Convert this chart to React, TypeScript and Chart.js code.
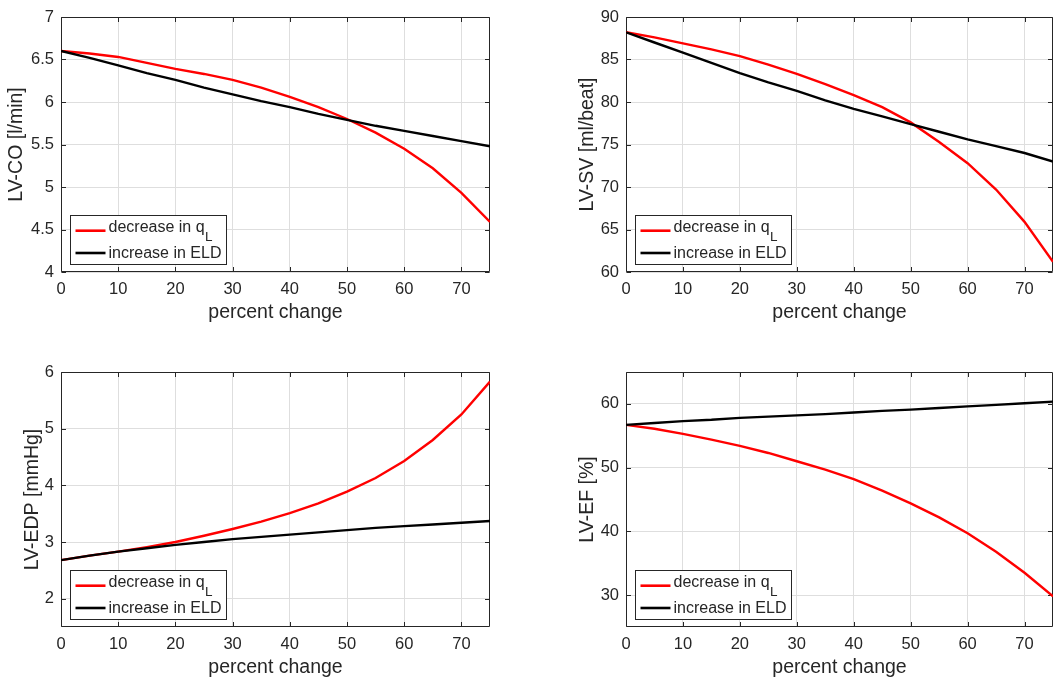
import React, { useEffect, useRef } from "react";
import { Chart, registerables } from "chart.js";

Chart.register(...registerables);

// ---------------- data ----------------
const percentChange = [0, 5, 10, 15, 20, 25, 30, 35, 40, 45, 50, 55, 60, 65, 70, 75];
const xTicks = [0, 10, 20, 30, 40, 50, 60, 70];
const xLabel = "percent change";
const seriesLabels = ["decrease in q_L", "increase in ELD"];

const coDecreaseQL = [6.6, 6.57, 6.53, 6.46, 6.39, 6.33, 6.26, 6.17, 6.06, 5.94, 5.8, 5.64, 5.45, 5.22, 4.93, 4.59];
const coIncreaseELD = [6.6, 6.52, 6.43, 6.34, 6.26, 6.17, 6.09, 6.01, 5.94, 5.86, 5.79, 5.72, 5.66, 5.6, 5.54, 5.48];
const svDecreaseQL = [88.2, 87.6, 86.9, 86.2, 85.4, 84.4, 83.3, 82.1, 80.8, 79.4, 77.6, 75.3, 72.8, 69.7, 65.9, 61.2];
const svIncreaseELD = [88.2, 87.0, 85.8, 84.6, 83.4, 82.3, 81.3, 80.2, 79.2, 78.3, 77.4, 76.5, 75.6, 74.8, 74.0, 73.0];
const edpDecreaseQL = [2.68, 2.76, 2.83, 2.91, 3.0, 3.11, 3.23, 3.36, 3.51, 3.68, 3.89, 4.13, 4.43, 4.8, 5.25, 5.83];
const edpIncreaseELD = [2.68, 2.76, 2.83, 2.89, 2.95, 3.0, 3.05, 3.09, 3.13, 3.17, 3.21, 3.25, 3.28, 3.31, 3.34, 3.37];
const efDecreaseQL = [56.7, 56.1, 55.3, 54.4, 53.4, 52.3, 51.0, 49.7, 48.2, 46.4, 44.4, 42.2, 39.7, 36.8, 33.5, 29.8];
const efIncreaseELD = [56.7, 57.0, 57.3, 57.5, 57.8, 58.0, 58.2, 58.4, 58.65, 58.9, 59.1, 59.35, 59.6, 59.85, 60.1, 60.35];

const yTicksCO = [4, 4.5, 5, 5.5, 6, 6.5, 7];
const yTicksSV = [60, 65, 70, 75, 80, 85, 90];
const yTicksEDP = [2, 3, 4, 5, 6];
const yTicksEF = [30, 40, 50, 60];

const yLabelCO = "LV-CO [l/min]";
const yLabelSV = "LV-SV [ml/beat]";
const yLabelEDP = "LV-EDP [mmHg]";
const yLabelEF = "LV-EF [%]";

// ---------------- styles ----------------
const FONT = '"Liberation Sans", Arial, Helvetica, sans-serif';
const AXIS = "#262626";
const GRID = "#dedede";
const RED = "#ff0000";
const BLACK = "#000000";
const TICK_LEN = 4.5;
const TICK_FONT = 16.5;
const TITLE_FONT = 19.5;
const LEGEND_FONT = 16;
const SUB_FONT = 13.5;

type PanelCfg = {
  canvas: { left: number; top: number; w: number; h: number };
  area: { l: number; t: number; r: number; b: number };
  yTitleX: number;
  xTitleY: number;
  yMin: number;
  yMax: number;
  yTicks: number[];
  yLabel: string;
  red: number[];
  black: number[];
};

const panels: PanelCfg[] = [
  {
    canvas: { left: 0, top: 0, w: 531, h: 342 },
    area: { l: 61, t: 17, r: 490, b: 272 },
    yTitleX: 16.5, xTitleY: 313,
    yMin: 4, yMax: 7, yTicks: yTicksCO, yLabel: yLabelCO,
    red: coDecreaseQL, black: coIncreaseELD,
  },
  {
    canvas: { left: 531, top: 0, w: 532, h: 342 },
    area: { l: 626, t: 17, r: 1053, b: 272 },
    yTitleX: 588, xTitleY: 313,
    yMin: 60, yMax: 90, yTicks: yTicksSV, yLabel: yLabelSV,
    red: svDecreaseQL, black: svIncreaseELD,
  },
  {
    canvas: { left: 0, top: 342, w: 531, h: 342 },
    area: { l: 61, t: 372, r: 490, b: 627 },
    yTitleX: 33, xTitleY: 668,
    yMin: 1.5, yMax: 6, yTicks: yTicksEDP, yLabel: yLabelEDP,
    red: edpDecreaseQL, black: edpIncreaseELD,
  },
  {
    canvas: { left: 531, top: 342, w: 532, h: 342 },
    area: { l: 626, t: 372, r: 1053, b: 627 },
    yTitleX: 588, xTitleY: 668,
    yMin: 25, yMax: 65, yTicks: yTicksEF, yLabel: yLabelEF,
    red: efDecreaseQL, black: efIncreaseELD,
  },
];

const framePlugin = {
  id: "matlabFrame",
  beforeDatasetsDraw(chart: any) {
    const { ctx, chartArea: a, scales } = chart;
    ctx.save();
    ctx.strokeStyle = AXIS;
    ctx.lineWidth = 1;
    ctx.beginPath();
    const L = Math.round(a.left) + 0.5;
    const R = Math.round(a.right) - 0.5;
    const T = Math.round(a.top) + 0.5;
    const B = Math.round(a.bottom) - 0.5;
    scales.x.ticks.forEach((t: any) => {
      const px = Math.round(scales.x.getPixelForValue(t.value)) + 0.5;
      ctx.moveTo(px, B);
      ctx.lineTo(px, B - TICK_LEN);
      ctx.moveTo(px, T);
      ctx.lineTo(px, T + TICK_LEN);
    });
    scales.y.ticks.forEach((t: any) => {
      const py = Math.round(scales.y.getPixelForValue(t.value)) + 0.5;
      ctx.moveTo(L, py);
      ctx.lineTo(L + TICK_LEN, py);
      ctx.moveTo(R, py);
      ctx.lineTo(R - TICK_LEN, py);
    });
    ctx.rect(L, T, R - L, B - T);
    ctx.stroke();
    ctx.restore();
  },
};

const legendPlugin = {
  id: "subLegend",
  afterDraw(chart: any) {
    const { ctx, chartArea: a } = chart;
    const items = chart.data.datasets.map((d: any) => {
      const [main, sub] = String(d.label).split("_");
      return { main, sub, color: d.borderColor };
    });
    ctx.save();
    const mainFont = `${LEGEND_FONT}px ${FONT}`;
    const subFont = `${SUB_FONT}px ${FONT}`;
    let maxW = 0;
    items.forEach((it: any) => {
      ctx.font = mainFont;
      let w = ctx.measureText(it.main).width;
      if (it.sub) {
        ctx.font = subFont;
        w += ctx.measureText(it.sub).width;
      }
      maxW = Math.max(maxW, w);
    });
    const left = Math.round(a.left + 8.5) + 0.5;
    const bottom = Math.round(a.bottom - 8) + 0.5;
    const top = Math.round(a.bottom - 57) + 0.5;
    const textX = left + 38;
    const right = Math.round(textX + maxW + 5) + 0.5;
    ctx.fillStyle = "#ffffff";
    ctx.fillRect(left, top, right - left, bottom - top);
    ctx.strokeStyle = AXIS;
    ctx.lineWidth = 1;
    ctx.strokeRect(left, top, right - left, bottom - top);
    const rowY = [a.bottom - 41.3, a.bottom - 19];
    items.forEach((it: any, i: number) => {
      const y = rowY[i];
      ctx.strokeStyle = it.color;
      ctx.lineWidth = 2.6;
      ctx.beginPath();
      ctx.moveTo(left + 5, y);
      ctx.lineTo(left + 35, y);
      ctx.stroke();
      ctx.fillStyle = AXIS;
      ctx.textBaseline = "alphabetic";
      ctx.textAlign = "left";
      ctx.font = mainFont;
      if (it.sub) {
        ctx.fillText(it.main, textX, y + 1.5);
        const w = ctx.measureText(it.main).width;
        ctx.font = subFont;
        ctx.fillText(it.sub, textX + w + 0.5, y + 10.5);
      } else {
        ctx.fillText(it.main, textX, y + 5);
      }
    });
    ctx.restore();
  },
};

function buildConfig(p: PanelCfg): any {
  const yScaleWidth = p.area.l - p.canvas.left;
  const xScaleHeight = p.canvas.top + p.canvas.h - p.area.b;
  const titleHalf = (TITLE_FONT * 1.2) / 2;
  return {
    type: "line",
    data: {
      labels: percentChange,
      datasets: [
        {
          label: seriesLabels[0],
          data: percentChange.map((x, i) => ({ x, y: p.red[i] })),
          borderColor: RED,
          backgroundColor: RED,
          borderWidth: 2.4,
          pointRadius: 0,
          tension: 0,
          order: 1,
        },
        {
          label: seriesLabels[1],
          data: percentChange.map((x, i) => ({ x, y: p.black[i] })),
          borderColor: BLACK,
          backgroundColor: BLACK,
          borderWidth: 2.4,
          pointRadius: 0,
          tension: 0,
          order: 0,
        },
      ],
    },
    options: {
      responsive: false,
      animation: false,
      devicePixelRatio: 1,
      layout: {
        padding: {
          left: 0,
          top: p.area.t - p.canvas.top,
          right: p.canvas.left + p.canvas.w - p.area.r,
          bottom: 0,
        },
      },
      plugins: {
        legend: { display: false },
        tooltip: { enabled: false },
      },
      scales: {
        x: {
          type: "linear",
          min: 0,
          max: 75,
          afterBuildTicks: (s: any) => {
            s.ticks = xTicks.map((v) => ({ value: v }));
          },
          afterFit: (s: any) => {
            s.height = xScaleHeight;
          },
          grid: { color: GRID, lineWidth: 1, drawTicks: false },
          border: { display: false },
          ticks: {
            autoSkip: false,
            maxRotation: 0,
            padding: 8,
            color: AXIS,
            font: { family: FONT, size: TICK_FONT, lineHeight: 1.2 },
            callback: (v: any) => String(v),
          },
          title: {
            display: true,
            text: xLabel,
            color: AXIS,
            font: { family: FONT, size: TITLE_FONT, lineHeight: 1.2 },
            padding: { top: 0, bottom: p.canvas.top + p.canvas.h - p.xTitleY - titleHalf },
          },
        },
        y: {
          type: "linear",
          min: p.yMin,
          max: p.yMax,
          afterBuildTicks: (s: any) => {
            s.ticks = p.yTicks.map((v) => ({ value: v }));
          },
          afterFit: (s: any) => {
            s.width = yScaleWidth;
          },
          grid: { color: GRID, lineWidth: 1, drawTicks: false },
          border: { display: false },
          ticks: {
            autoSkip: false,
            padding: 7,
            color: AXIS,
            font: { family: FONT, size: TICK_FONT, lineHeight: 1.2 },
            callback: (v: any) => String(v),
          },
          title: {
            display: true,
            text: p.yLabel,
            color: AXIS,
            font: { family: FONT, size: TITLE_FONT, lineHeight: 1.2 },
            padding: { top: p.yTitleX - p.canvas.left - titleHalf, bottom: 0 },
          },
        },
      },
    },
    plugins: [framePlugin, legendPlugin],
  };
}

function Panel({ cfg }: { cfg: PanelCfg }) {
  const ref = useRef<HTMLCanvasElement>(null);
  useEffect(() => {
    if (!ref.current) return;
    const chart = new Chart(ref.current, buildConfig(cfg));
    return () => chart.destroy();
  }, [cfg]);
  return (
    <canvas
      ref={ref}
      width={cfg.canvas.w}
      height={cfg.canvas.h}
      style={{
        position: "absolute",
        left: cfg.canvas.left,
        top: cfg.canvas.top,
        width: cfg.canvas.w,
        height: cfg.canvas.h,
      }}
    />
  );
}

export default function App() {
  return (
    <div
      style={{
        position: "absolute",
        left: 0,
        top: 0,
        width: 1063,
        height: 684,
        background: "#ffffff",
        overflow: "hidden",
      }}
    >
      {panels.map((p, i) => (
        <Panel key={i} cfg={p} />
      ))}
    </div>
  );
}
